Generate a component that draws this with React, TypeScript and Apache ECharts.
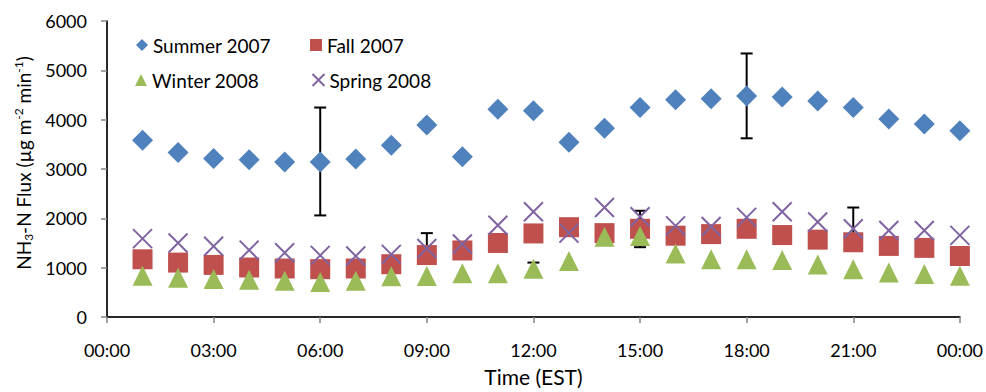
import React, { useEffect, useRef } from "react";
import * as echarts from "echarts";

// Hours of day (EST) at which the fluxes were measured
const hours = [1, 2, 3, 4, 5, 6, 7, 8, 9, 10, 11, 12, 13, 14, 15, 16, 17, 18, 19, 20, 21, 22, 23, 24];

// NH3-N flux (µg m-2 min-1)
const summer2007 = [3582, 3335, 3215, 3189, 3143, 3143, 3203, 3482, 3893, 3249, 4212, 4180, 3542, 3827, 4246, 4405, 4425, 4478, 4458, 4379, 4246, 4012, 3913, 3773];
const fall2007 = [1170, 1103, 1056, 1003, 983, 970, 983, 1070, 1256, 1349, 1501, 1694, 1820, 1700, 1788, 1648, 1680, 1788, 1661, 1568, 1515, 1441, 1401, 1236];
const winter2008 = [837, 797, 771, 754, 737, 711, 737, 824, 830, 887, 887, 977, 1133, 1628, 1644, 1286, 1170, 1170, 1153, 1063, 970, 903, 870, 834];
const spring2008 = [1588, 1501, 1435, 1355, 1302, 1249, 1236, 1270, 1389, 1481, 1860, 2133, 1700, 2219, 2033, 1847, 1834, 2019, 2133, 1927, 1788, 1754, 1754, 1654];

// Error bars: [hour, low, high]
const summerErr = [[6, 2059, 4246], [18, 3622, 5342]];
const fallErr = [[15, 1415, 2153]];
const winterErr = [[12, 851, 1103]];
const springErr = [[9, 1078, 1700], [21, 1357, 2219]];

const yTicks = { min: 0, max: 6000, interval: 1000 };
const xTicks = { min: 0, max: 24, interval: 3 };

const seriesNames = ["Summer 2007", "Fall 2007", "Winter 2008", "Spring 2008"];

const FONT = "Lato";
const X_PATH = "path://M0,0L10,10M10,0L0,10";

function pair(vals: number[]) {
  return hours.map((h, i) => [h, vals[i]]);
}

export default function App() {
  const ref = useRef<HTMLDivElement>(null);
  useEffect(() => {
    if (!ref.current) return;
    const chart = echarts.init(ref.current, undefined, { renderer: "svg" });

    const errorRender = (params: any, api: any) => {
      const x = api.value(0);
      const lo = api.value(1);
      const hi = api.value(2);
      const pHi = api.coord([x, hi]);
      const pLo = api.coord([x, lo]);
      const cw = 6;
      const style = { stroke: "#000", lineWidth: 2 };
      return {
        type: "group",
        children: [
          { type: "line", shape: { x1: pHi[0], y1: pHi[1], x2: pLo[0], y2: pLo[1] }, style },
          { type: "line", shape: { x1: pHi[0] - cw, y1: pHi[1], x2: pHi[0] + cw, y2: pHi[1] }, style },
          { type: "line", shape: { x1: pLo[0] - cw, y1: pLo[1], x2: pLo[0] + cw, y2: pLo[1] }, style },
        ],
      };
    };

    const errSeries = (data: number[][]) => ({
      type: "custom",
      renderItem: errorRender,
      data,
      encode: { x: 0, y: [1, 2] },
      z: 1,
      clip: false,
      silent: true,
    });

    const legendBase = {
      orient: "horizontal",
      padding: 0,
      itemWidth: 12,
      itemHeight: 12,
      itemGap: 0,
      textStyle: { fontFamily: FONT, fontSize: 19, color: "#000", lineHeight: 20 },
    };

    const grayAxis = { lineStyle: { color: "#868686", width: 1.5 } };

    const option: any = {
      animation: false,
      backgroundColor: "#fff",
      grid: { left: 107, top: 21, right: 26, bottom: 70 },
      legend: [
        { ...legendBase, data: [seriesNames[0]], left: 136, top: 35 },
        { ...legendBase, data: [seriesNames[1]], left: 310, top: 35 },
        { ...legendBase, data: [seriesNames[2]], left: 135, top: 70 },
        { ...legendBase, data: [seriesNames[3]], left: 310, top: 70 },
      ],
      xAxis: [
        {
          type: "value",
          ...xTicks,
          axisLine: { show: true, ...grayAxis },
          axisTick: { show: true, length: 6, lineStyle: { color: "#868686", width: 1.5 } },
          splitLine: { show: false },
          axisLabel: {
            margin: 24,
            fontFamily: FONT,
            fontSize: 18,
            color: "#000",
            formatter: (v: number) => {
              const h = v % 24;
              return (h < 10 ? "0" : "") + h + ":00";
            },
          },
          name: "Time (EST)",
          nameLocation: "middle",
          nameGap: 48,
          nameTextStyle: { fontFamily: FONT, fontSize: 21, color: "#000", lineHeight: 22 },
        },
        {
          type: "value",
          position: "top",
          ...xTicks,
          axisLine: { show: true, lineStyle: { color: "#000", width: 1.5 } },
          axisTick: { show: false },
          axisLabel: { show: false },
          splitLine: { show: false },
        },
      ],
      yAxis: [
        {
          type: "value",
          ...yTicks,
          axisLine: { show: true, ...grayAxis },
          axisTick: { show: true, length: 6, lineStyle: { color: "#868686", width: 1.5 } },
          splitLine: { show: false },
          axisLabel: {
            margin: 20,
            fontFamily: FONT,
            fontSize: 18,
            color: "#000",
            formatter: (v: number) => String(v),
          },
          name: "{n|NH}{s|3}{n|-N Flux (µg m}{p|-2}{n| min}{p|-1}{n|)}",
          nameLocation: "middle",
          nameGap: 66,
          nameTextStyle: {
            fontFamily: FONT,
            fontSize: 19,
            color: "#000",
            padding: [0, 0, 0, 12],
            rich: {
              n: { fontFamily: FONT, fontSize: 19, lineHeight: 22, color: "#000" },
              s: { fontFamily: FONT, fontSize: 12, lineHeight: 12, verticalAlign: "bottom", color: "#000" },
              p: { fontFamily: FONT, fontSize: 12, lineHeight: 12, verticalAlign: "top", color: "#000" },
            },
          },
        },
        {
          type: "value",
          position: "right",
          ...yTicks,
          axisLine: { show: true, lineStyle: { color: "#000", width: 1.5 } },
          axisTick: { show: false },
          axisLabel: { show: false },
          splitLine: { show: false },
        },
      ],
      series: [
        errSeries(summerErr),
        errSeries(fallErr),
        errSeries(winterErr),
        errSeries(springErr),
        {
          name: seriesNames[0],
          type: "scatter",
          data: pair(summer2007),
          symbol: "diamond",
          symbolSize: 21,
          itemStyle: { color: "#4F81BD", opacity: 1 },
          clip: false,
          z: 2,
        },
        {
          name: seriesNames[1],
          type: "scatter",
          data: pair(fall2007),
          symbol: "rect",
          symbolSize: 20,
          itemStyle: { color: "#C0504D", opacity: 1 },
          clip: false,
          z: 2,
        },
        {
          name: seriesNames[2],
          type: "scatter",
          data: pair(winter2008),
          symbol: "triangle",
          symbolSize: 20,
          itemStyle: { color: "#9BBB59", opacity: 1 },
          clip: false,
          z: 2,
        },
        {
          name: seriesNames[3],
          type: "scatter",
          data: pair(spring2008),
          symbol: X_PATH,
          symbolSize: 19,
          itemStyle: { color: "none", borderColor: "#8064A2", borderWidth: 2, opacity: 1 },
          clip: false,
          z: 2,
        },
      ],
    };

    chart.setOption(option);
    return () => chart.dispose();
  }, []);

  return (
    <div
      ref={ref}
      style={{ position: "fixed", left: 0, top: 0, width: 986, height: 392, background: "#fff" }}
    />
  );
}
